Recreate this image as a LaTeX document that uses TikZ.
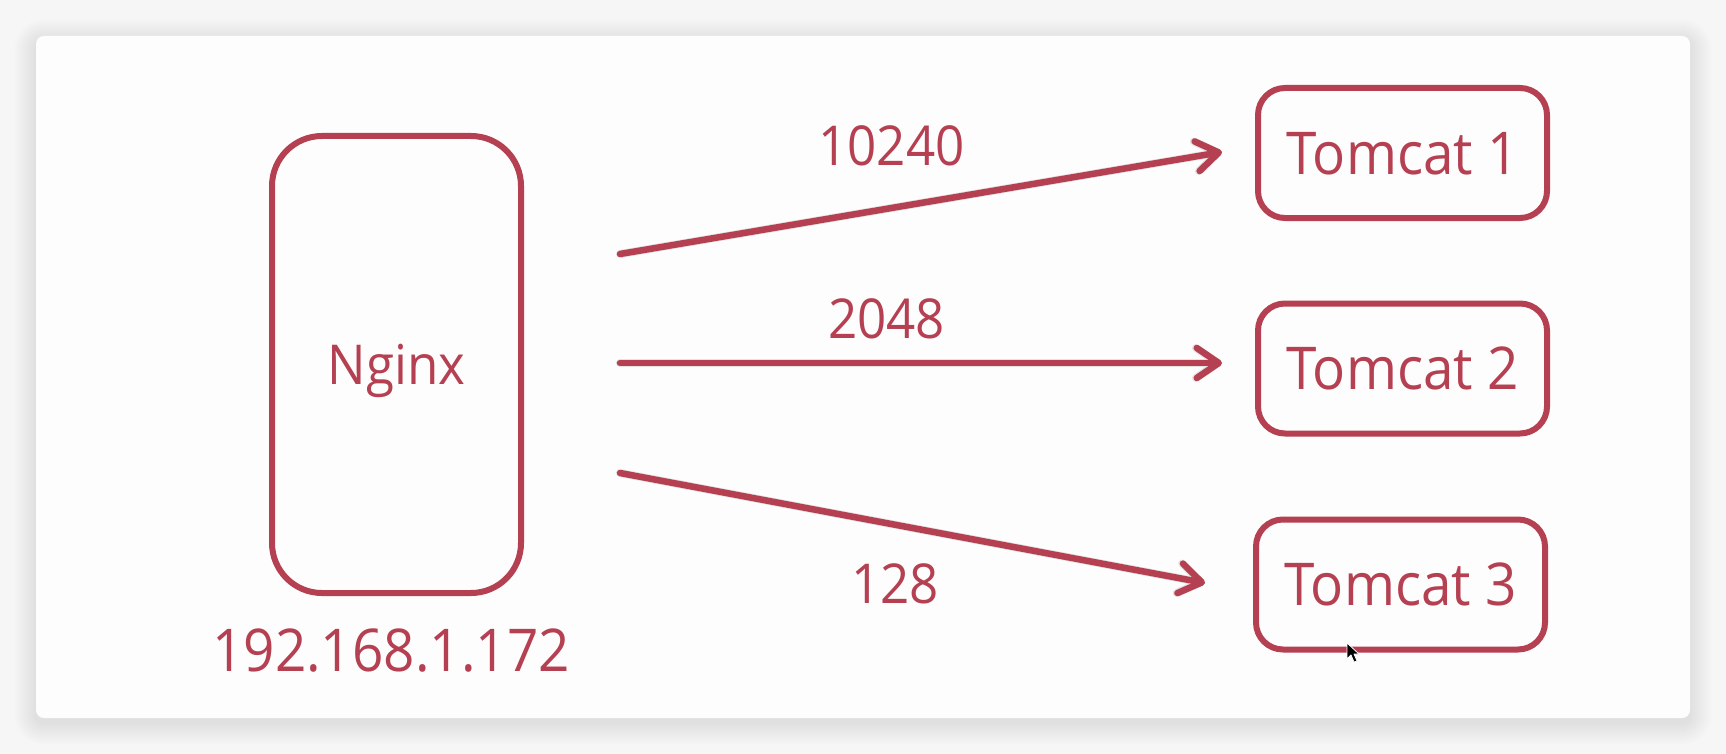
\documentclass[tikz,border=0pt]{standalone}
\usepackage{fontspec}
\setmainfont[FakeStretch=0.93]{Open Sans}
\usetikzlibrary{arrows.meta,calc}
\definecolor{crim}{RGB}{181,64,82}
\definecolor{bgcol}{RGB}{246,246,246}
\definecolor{cardcol}{RGB}{253,253,253}
\begin{document}
\begin{tikzpicture}[x=1bp,y=-1bp,
  box/.style={draw=crim, line width=6bp, text=crim, inner sep=0pt},
  tom/.style={box, rounded corners=27bp, minimum width=289bp, minimum height=130bp,
    font=\fontsize{59bp}{70bp}\selectfont, text height=42bp, text depth=0pt},
  lbl/.style={text=crim, inner sep=0pt, anchor=base, font=\fontsize{55bp}{64bp}\selectfont},
  tipstyle/.style={-{Straight Barb[length=22bp,width=30bp,round]}},
  arr/.style={draw=crim, line width=6.5bp, line cap=round, tipstyle},
  shd/.style={draw=black, line width=8bp, line cap=round, tipstyle}
]
% background and card
\fill[bgcol] (0,0) rectangle (1726,754);
\useasboundingbox (0,0) rectangle (1726,754);
\foreach \k in {1,...,22}{
  \fill[black, opacity=0.0042, rounded corners={8+\k}] (36-\k,36-\k+5) rectangle (1690+\k,718+\k+5);
}
\fill[cardcol, rounded corners=8bp] (36,36) rectangle (1690,718);

% nodes
\node[box, rounded corners=50bp, minimum width=249bp, minimum height=457bp,
  font=\fontsize{55bp}{64bp}\selectfont, text height=39bp, text depth=0pt] (nginx) at (396.5,364.5) {Nginx};
\node[lbl, font=\fontsize{59bp}{70bp}\selectfont] (ip) at (391,671.5) {192.168.1.172};

\node[tom] (t1) at (1402.5,153) {Tomcat 1};
\node[tom] (t2) at (1402.5,368.5) {Tomcat 2};
\node[tom] (t3) at (1400.5,584.5) {Tomcat 3};

\coordinate (s1) at ($(nginx.east)+(96,-110.5)$);
\coordinate (s2) at ($(nginx.east)+(96,-1.5)$);
\coordinate (s3) at ($(nginx.east)+(96,108.5)$);
\coordinate (e1) at ($(t1.west)+(-33,-1)$);
\coordinate (e2) at ($(t2.west)+(-33,-5.5)$);
\coordinate (e3) at ($(t3.west)+(-48,-1.5)$);

% arrow shadows
\begin{scope}[transparency group, opacity=0.10, shift={(3,5)}]
  \draw[shd] (s1) -- (e1);
  \draw[shd] (s2) -- (e2);
  \draw[shd] (s3) -- (e3);
\end{scope}
% arrows
\draw[arr] (s1) -- (e1);
\draw[arr] (s2) -- (e2);
\draw[arr] (s3) -- (e3);

% labels
\node[lbl] (l1) at (891.5,165) {10240};
\node[lbl] (l2) at (886.5,338.5) {2048};
\node[lbl] (l3) at (895,603.5) {128};

% mouse cursor
\filldraw[fill=black, draw=white, line width=0.8bp, line join=round]
  (1347,643) -- (1347,659) -- (1351,655) -- (1354,662) -- (1357,661) -- (1354,654) -- (1359,654) -- cycle;
\end{tikzpicture}
\end{document}
